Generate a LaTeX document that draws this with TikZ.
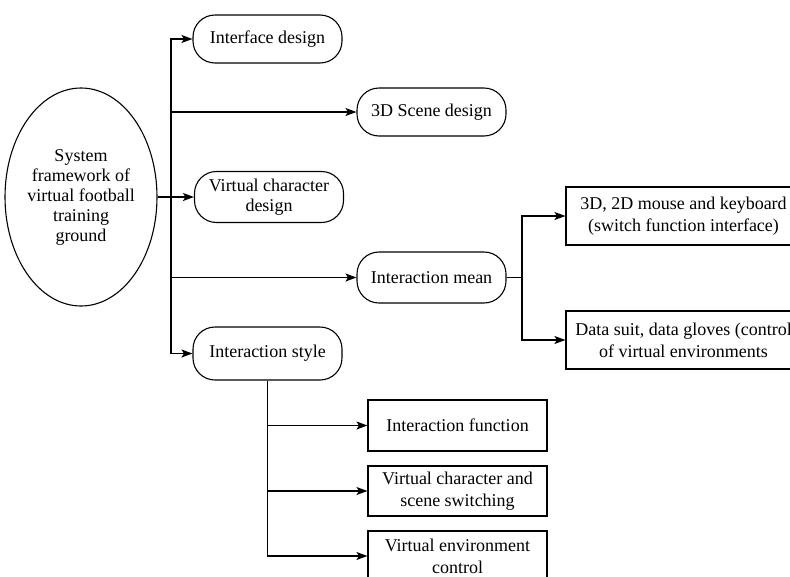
\documentclass[tikz,border=0pt]{standalone}
\usepackage{fontspec}
\setmainfont{Liberation Serif}
\usetikzlibrary{arrows.meta,shapes.geometric}
\begin{document}
\begin{tikzpicture}[x=1pt,y=-1pt,
  every node/.style={font=\fontsize{18}{22}\selectfont, align=center, inner sep=1pt},
  pill/.style={draw, line width=1.1pt, rounded corners=22pt, minimum width=149pt, minimum height=48pt},
  pilltall/.style={pill, minimum height=51pt},
  boxnode/.style={draw, line width=1.1pt, minimum width=179pt, minimum height=51pt},
  wide/.style={draw, line width=1.1pt, minimum width=235pt, minimum height=58pt},
  link/.style={line width=1.2pt},
  arr/.style={link, -{Stealth[length=11pt,width=8pt,inset=2.5pt]}}]
\useasboundingbox (0,0) rectangle (790,576);
\clip (0,0) rectangle (790,576);

% root of the tree
\node[draw, line width=1.1pt, ellipse, minimum width=137pt, minimum height=218pt, inner sep=0pt,
      font=\fontsize{18}{20}\selectfont] (root) at (81,197)
  {System\\framework of\\virtual football\\training\\ground};

% first level
\node[pill] (n1) at (267.5,39) {Interface design};
\node[pill] (n2) at (431.5,112) {3D Scene design};
\node[pilltall, font=\fontsize{18}{20}\selectfont] (n3) at (269,197) {Virtual character\\design};
\node[pilltall] (n4) at (431.5,277.5) {Interaction mean};
\node[pill, minimum height=53pt] (n5) at (267.5,353.5) {Interaction style};

% interaction means
\node[wide] (m1) at (683.5,216) {3D, 2D mouse and keyboard\\(switch function interface)};
\node[wide] (m2) at (683.5,340) {Data suit, data gloves (control\\of virtual environments};

% interaction styles
\node[boxnode] (s1) at (457.5,425.5) {Interaction function};
\node[boxnode, minimum height=50pt] (s2) at (457.5,491) {Virtual character and\\scene switching};
\node[boxnode, minimum height=50pt] (s3) at (457.5,556) {Virtual environment\\control};

% trunk
\coordinate (t) at (171,0);
\draw[arr] (n5.west -| t) |- (n1.west);
\draw[arr] (n2.west -| t) -- (n2.west);
\draw[arr] (n4.west -| t) -- (n4.west);
\draw[arr] (n5.west -| t) -- (n5.west);
\draw[arr] (root.east) -- (n3.west);

% branch of interaction means
\coordinate (b) at (522,0);
\draw[link] (n4.east) -- (n4.east -| b);
\draw[arr] (n4.east -| b) |- (m1.west);
\draw[arr] (n4.east -| b) |- (m2.west);

% branch of interaction styles
\draw[arr] (n5.south) |- (s3.west);
\draw[arr] (n5.south |- s1.west) -- (s1.west);
\draw[arr] (n5.south |- s2.west) -- (s2.west);
\end{tikzpicture}
\end{document}
